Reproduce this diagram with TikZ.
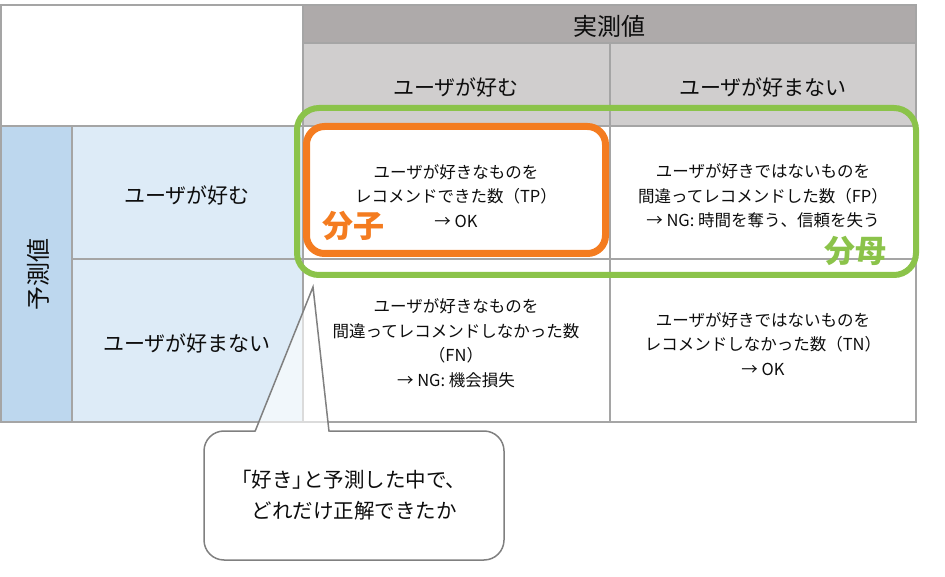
\documentclass[tikz,border=0pt]{standalone}
\usepackage{fontspec}
\setmainfont{Noto Sans CJK JP}
\definecolor{hdark}{HTML}{AEAAAA}
\definecolor{hlight}{HTML}{D0CECE}
\definecolor{bdark}{HTML}{BDD7EE}
\definecolor{blight}{HTML}{DDEBF7}
\definecolor{gridc}{HTML}{A5A5A5}
\definecolor{txt}{HTML}{0D0D0D}
\definecolor{greenc}{HTML}{8BC34A}
\definecolor{orangec}{HTML}{F47C20}
\definecolor{callc}{HTML}{808080}
\newcommand{\hbr}[1]{{\addfontfeature{RawFeature=+halt}#1}}
\begin{document}
\begin{tikzpicture}[x=1pt,y=-1pt]
\tikzset{
  gridline/.style={draw=gridc, line width=1.2pt},
  hdr/.style={font=\fontsize{21}{25}\selectfont, text=txt, inner sep=0pt},
  kanjihdr/.style={font=\fontsize{24}{28}\selectfont, text=txt, inner sep=0pt},
  celltext/.style={font=\fontsize{16.5}{24.5}\selectfont, align=center, text=txt, inner sep=0pt},
  bigtext/.style={font=\bfseries\fontsize{31}{34}\selectfont, inner sep=0pt},
  calloutline/.style={draw=callc, line width=1.5pt},
}
\useasboundingbox (0,0) rectangle (945,577);
% fills
\fill[hdark] (303,5) rectangle (916,43);
\fill[hlight] (303,43) rectangle (916,126);
\fill[bdark] (1,126) rectangle (72,422);
\fill[blight] (72,126) rectangle (303,422);
% grid
\draw[gridline] (1,5) rectangle (916,422);
\draw[gridline] (303,43) -- (916,43);
\draw[gridline] (1,126) -- (916,126);
\draw[gridline] (72,259) -- (916,259);
\draw[gridline] (72,126) -- (72,422);
\draw[gridline] (303,5) -- (303,422);
\draw[gridline] (610,43) -- (610,422);
% headers
\node[kanjihdr] (jissoku) at (609,26) {実測値};
\node[hdr] (colA) at (456,87) {ユーザが好む};
\node[hdr] (colB) at (763,87) {ユーザが好まない};
\node[kanjihdr, rotate=90] (yosoku) at (38,275) {予測値};
\node[hdr] (rowA) at (187,195) {ユーザが好む};
\node[hdr] (rowB) at (187,343) {ユーザが好まない};
% cells
\node[celltext] (tp) at (456,196) {ユーザが好きなものを\\レコメンドできた数（TP）\\→ OK};
\node[celltext] (fp) at (763,196) {ユーザが好きではないものを\\間違ってレコメンドした数（FP）\\→ NG: 時間を奪う、信頼を失う};
\node[celltext] (fn) at (456,343) {ユーザが好きなものを\\間違ってレコメンドしなかった数\\（FN）\\→ NG: 機会損失};
\node[celltext] (tn) at (763,344) {ユーザが好きではないものを\\レコメンドしなかった数（TN）\\→ OK};
% highlight frames
\draw[greenc, line width=6pt, rounded corners=22pt] (297,108) rectangle (916,275);
\draw[orangec, line width=7pt, rounded corners=18pt] (306.5,126.5) rectangle (605.5,253.5);
\node[bigtext, text=orangec] (bunshi) at (353,226) {分子};
\node[bigtext, text=greenc] (bunbo) at (855,251) {分母};
% callout
\fill[white, fill opacity=0.6] (255,431) -- (313,287) -- (329,431) -- cycle;
\draw[calloutline, fill=white, rounded corners=20pt] (204,431) rectangle (504,560);
\fill[white] (255.6,429.3) -- (328.8,429.3) -- (329.2,432.7) -- (255,432.7) -- cycle;
\draw[calloutline, line join=miter] (255,431.5) -- (313,287) -- (329,431.5);
\node[font=\fontsize{20.5}{31}\selectfont, align=center, text=txt, inner sep=0pt] (note) at (354,495) {\hbr{「}好き\hbr{」}と予測した中で、\\どれだけ正解できたか};
\end{tikzpicture}
\end{document}
